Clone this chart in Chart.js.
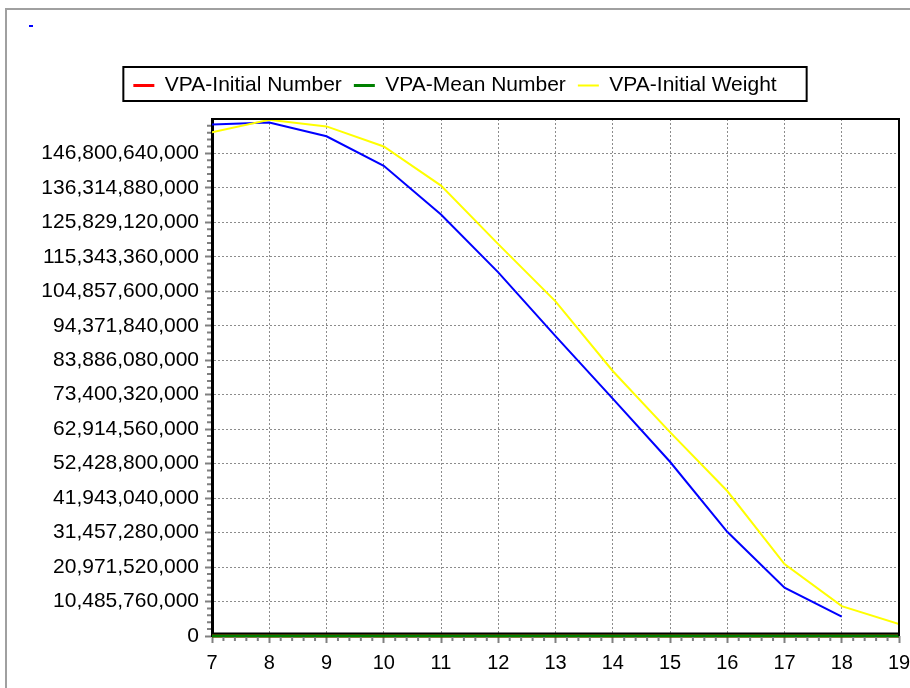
<!DOCTYPE html>
<html>
<head>
<meta charset="utf-8">
<script src="https://cdn.jsdelivr.net/npm/chart.js@4.4.0/dist/chart.umd.min.js"></script>
<style>
    html, body { margin: 0; padding: 0; background: #fff; }
    #frame { position: absolute; left: 5px; top: 8px; width: 940px; height: 720px; border-left: 2px solid #a0a0a0; border-top: 2px solid #a0a0a0; }
    #wrap { position: absolute; left: 0; top: 0; width: 910px; height: 688px; }
</style>
</head>
<body>
<div id="frame"></div>
<div id="wrap"><canvas id="vpaChart" width="910" height="688"></canvas></div>
<script>
// ages on the x axis
const ages = [7, 8, 9, 10, 11, 12, 13, 14, 15, 16, 17, 18, 19];

// series
const vpaInitialNumber = [0, 0, 0, 0, 0, 0, 0, 0, 0, 0, 0, 0, 0];
const vpaMeanNumber = [0, 0, 0, 0, 0, 0, 0, 0, 0, 0, 0, 0, 0];
const vpaInitialWeight = [153200000000, 157000000000, 155000000000, 148900000000, 137000000000, 119200000000,
    101800000000, 80600000000, 62000000000, 44100000000, 21900000000, 9100000000, 3600000000];
// blue line, has no text in the legend
const unnamedSeries = [155600000000, 156200000000, 152000000000, 143000000000, 128200000000, 110600000000,
    91200000000, 72200000000, 53000000000, 31700000000, 14700000000, 5900000000, null];

// y axis ticks
const yTicks = [0, 10485760000, 20971520000, 31457280000, 41943040000, 52428800000, 62914560000,
    73400320000, 83886080000, 94371840000, 104857600000, 115343360000, 125829120000, 136314880000, 146800640000];
const yMax = 157250000000;

const FONT = 'Arial, "Liberation Sans", sans-serif';

function points(values) {
    return ages.map((a, i) => ({ x: a, y: values[i] }));
}

const extras = {
    id: 'extras',
    afterLayout(chart) {
        // legend sits a bit higher above the plot
        chart.legend.top -= 13;
        chart.legend.bottom -= 13;
    },
    beforeDatasetsDraw(chart) {
        // black base line, sits just above the zero series
        const ctx = chart.ctx;
        const area = chart.chartArea;
        ctx.save();
        ctx.strokeStyle = '#000';
        ctx.lineWidth = 3;
        ctx.beginPath();
        ctx.moveTo(area.left - 1, area.bottom - 2);
        ctx.lineTo(area.right, area.bottom - 2);
        ctx.stroke();
        ctx.restore();
    },
    afterDraw(chart) {
        const ctx = chart.ctx;
        const area = chart.chartArea;
        const xs = chart.scales.x;
        const ys = chart.scales.y;
        ctx.save();

        // top and right edge of the plot
        ctx.strokeStyle = '#000';
        ctx.lineWidth = 2;
        ctx.beginPath();
        ctx.moveTo(area.left, area.top);
        ctx.lineTo(area.right, area.top);
        ctx.lineTo(area.right, area.bottom);
        ctx.stroke();

        // minor ticks
        ctx.strokeStyle = '#808080';
        ctx.lineWidth = 2;
        ctx.beginPath();
        for (let i = 0; i < ages.length - 1; i++) {
            for (let k = 1; k < 5; k++) {
                const px = xs.getPixelForValue(ages[i] + k / 5);
                ctx.moveTo(px, area.bottom + 1);
                ctx.lineTo(px, area.bottom + 5);
            }
        }
        const yStep = yTicks[1] - yTicks[0];
        for (const v of yTicks) {
            for (let k = 1; k < 5; k++) {
                const val = v + k * yStep / 5;
                if (val > yMax) break;
                const py = ys.getPixelForValue(val);
                ctx.moveTo(area.left - 1, py);
                ctx.lineTo(area.left - 5, py);
            }
        }
        ctx.stroke();

        // box round the legend
        const lg = chart.legend;
        const pad = lg.options.labels.padding;
        const rowW = lg.lineWidths[0];
        const x0 = (lg.left + pad + lg.right - rowW) / 2;
        ctx.strokeStyle = '#000';
        ctx.lineWidth = 2;
        ctx.strokeRect(x0 - 10, lg.top + pad - 8, rowW - pad + 40, 34);

        // small blue mark top left
        ctx.strokeStyle = '#0000ff';
        ctx.lineWidth = 2;
        ctx.beginPath();
        ctx.moveTo(29, 26);
        ctx.lineTo(33, 26);
        ctx.stroke();
        ctx.restore();
    }
};

const vpaChart = new Chart(document.getElementById('vpaChart').getContext('2d'), {
    type: 'line',
    data: {
        datasets: [
            { label: 'VPA-Initial Number', data: points(vpaInitialNumber), borderColor: '#ff0000', backgroundColor: '#ff0000', borderWidth: 3, clip: 4, order: 3 },
            { label: 'VPA-Mean Number', data: points(vpaMeanNumber), borderColor: '#008000', backgroundColor: '#008000', borderWidth: 3, clip: 4, order: 0 },
            { label: 'VPA-Initial Weight', data: points(vpaInitialWeight), borderColor: '#ffff00', backgroundColor: '#ffff00', borderWidth: 2, order: 1 },
            { label: '', data: points(unnamedSeries), borderColor: '#0000ff', backgroundColor: '#0000ff', borderWidth: 2, order: 2 }
        ]
    },
    options: {
        responsive: false,
        animation: false,
        elements: {
            point: { radius: 0, hoverRadius: 0 },
            line: { tension: 0 }
        },
        layout: { padding: { left: 0, right: 0, top: 76, bottom: 0 } },
        scales: {
            x: {
                type: 'linear',
                min: 7,
                max: 19,
                afterFit: s => { s.height = 52; s.paddingRight = 11; },
                ticks: { stepSize: 1, color: '#000', font: { family: FONT, size: 20 }, padding: 8 },
                grid: { color: '#8c8c8c', lineWidth: 1, tickLength: 7, tickColor: '#808080', tickWidth: 2, tickBorderDash: [] },
                border: { display: false, dash: [2, 2] }
            },
            y: {
                min: 0,
                max: yMax,
                afterFit: s => { s.width = 212; },
                afterBuildTicks: s => { s.ticks = yTicks.map(v => ({ value: v })); },
                ticks: {
                    color: '#000',
                    font: { family: FONT, size: 21 },
                    padding: 6,
                    callback: v => v.toLocaleString('en-US')
                },
                grid: { color: '#8c8c8c', lineWidth: 1, tickLength: 7, tickColor: '#808080', tickWidth: 2, tickBorderDash: [] },
                border: { display: true, color: '#000', width: 3, dash: [2, 2] }
            }
        },
        plugins: {
            tooltip: { enabled: false },
            legend: {
                position: 'top',
                labels: {
                    usePointStyle: true,
                    pointStyle: 'line',
                    pointStyleWidth: 21,
                    padding: 12,
                    color: '#000',
                    font: { family: FONT, size: 21 },
                    filter: item => item.text !== '',
                    sort: (a, b) => a.datasetIndex - b.datasetIndex
                }
            }
        }
    },
    plugins: [extras]
});
</script>
</body>
</html>
